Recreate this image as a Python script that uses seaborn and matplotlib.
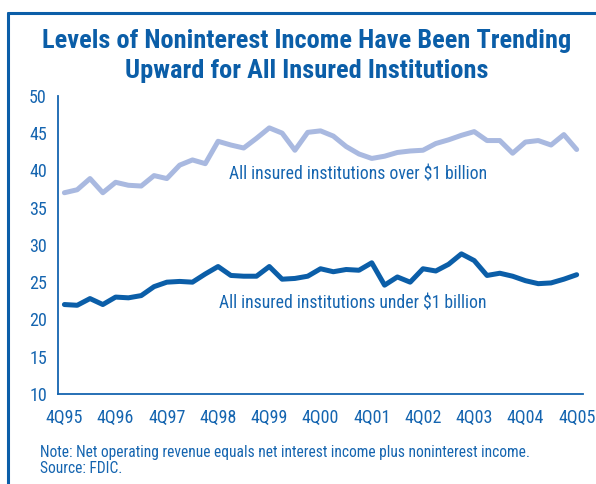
import numpy as np
import pandas as pd
import matplotlib.pyplot as plt
import seaborn as sns

# Quarterly noninterest income share (%), 4Q95 .. 4Q05
quarters = [f"{q}Q{str(y)[2:]}" for y in range(1995, 2006) for q in range(1, 5)][3:44]
over_1b = [37.0, 37.4, 38.9, 37.0, 38.4, 38.0, 37.9, 39.3, 38.9, 40.7,
           41.4, 40.9, 43.9, 43.4, 43.0, 44.3, 45.7, 45.0, 42.7, 45.1,
           45.3, 44.6, 43.2, 42.2, 41.6, 41.9, 42.4, 42.6, 42.7, 43.6,
           44.1, 44.7, 45.2, 44.0, 44.0, 42.3, 43.8, 44.0, 43.4, 44.8, 42.8]
under_1b = [22.0, 21.9, 22.8, 22.0, 23.0, 22.9, 23.2, 24.4, 25.0, 25.1,
            25.0, 26.1, 27.1, 25.9, 25.8, 25.8, 27.1, 25.4, 25.5, 25.8,
            26.8, 26.4, 26.7, 26.6, 27.6, 24.6, 25.7, 25.0, 26.8, 26.5,
            27.4, 28.8, 27.9, 25.9, 26.2, 25.8, 25.2, 24.8, 24.9, 25.4, 26.0]
year_labels = ["4Q95", "4Q96", "4Q97", "4Q98", "4Q99", "4Q00",
               "4Q01", "4Q02", "4Q03", "4Q04", "4Q05"]

df = pd.DataFrame({"idx": np.arange(len(quarters)), "quarter": quarters,
                   "over": over_1b, "under": under_1b})

sns.set_style("white")
plt.rcParams["font.family"] = ["Roboto Condensed", "DejaVu Sans"]

blue_text = "#1565b0"
dark_line = "#0b5ea8"
light_line = "#a9b9e0"

fig = plt.figure(figsize=(5.96, 4.84), dpi=100)
ax = fig.add_axes([0.0973, 0.186, 0.881, 0.616])

sns.lineplot(data=df, x="idx", y="over", ax=ax, color=light_line, linewidth=3.6)
sns.lineplot(data=df, x="idx", y="under", ax=ax, color=dark_line, linewidth=3.6)

ax.set_xlim(-0.5, len(quarters) - 0.5)
ax.set_ylim(10, 50)
ax.set_yticks(range(10, 51, 5))
ax.set_xticks(np.arange(-0.5, len(quarters), 1), minor=True)
ax.set_xticks(np.arange(0, len(quarters), 4))
ax.set_xticklabels(year_labels)
ax.tick_params(axis="x", which="major", length=0, pad=11, labelsize=13, colors=blue_text)
ax.tick_params(axis="x", which="minor", length=5, width=1.2, color=blue_text, direction="out")
ax.tick_params(axis="y", length=5, width=1.2, color=blue_text, labelsize=13,
               labelcolor=blue_text, direction="out", pad=3)
ax.set_xlabel("")
ax.set_ylabel("")
for side in ["top", "right"]:
    ax.spines[side].set_visible(False)
for side in ["left", "bottom"]:
    ax.spines[side].set_color(blue_text)
    ax.spines[side].set_linewidth(1.3)

ax.text(12.85, 39.5, "All insured institutions over $1 billion", color=blue_text,
        fontsize=12.7, ha="left", va="center")
ax.text(12.05, 22.1, "All insured institutions under $1 billion", color=blue_text,
        fontsize=12.7, ha="left", va="center")

fig.text(0.515, 0.916, "Levels of Noninterest Income Have Been Trending",
         ha="center", va="center", fontsize=19, fontweight="bold", color="#0b5ea8")
fig.text(0.515, 0.854, "Upward for All Insured Institutions",
         ha="center", va="center", fontsize=19, fontweight="bold", color="#0b5ea8")

fig.text(0.067, 0.066, "Note: Net operating revenue equals net interest income plus noninterest income.",
         ha="left", va="center", fontsize=11.2, color=blue_text)
fig.text(0.067, 0.032, "Source: FDIC.", ha="left", va="center", fontsize=11.2, color=blue_text)

# partial frame (left and top edges)
fig.add_artist(plt.Line2D([0.013, 0.013], [0.0, 0.973], color="#0b5ea8", linewidth=2.2))
fig.add_artist(plt.Line2D([0.013, 1.0], [0.973, 0.973], color="#0b5ea8", linewidth=2.2))

fig.savefig("out.png", dpi=100)
